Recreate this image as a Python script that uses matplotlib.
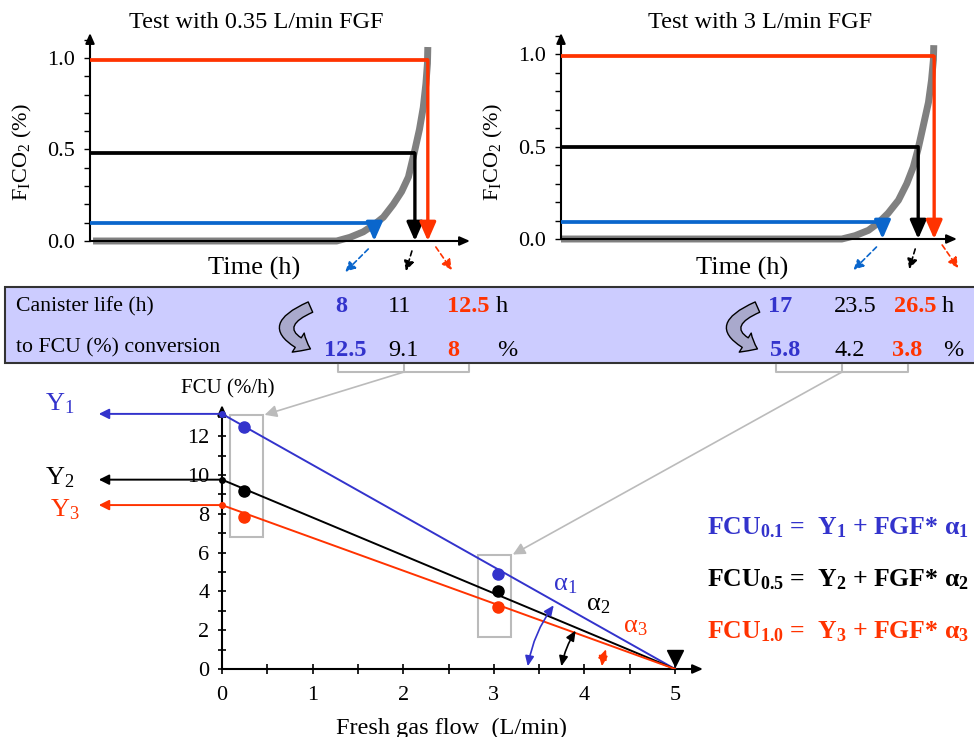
import matplotlib
matplotlib.use("Agg")
import matplotlib.pyplot as plt
from matplotlib.lines import Line2D
from matplotlib.patches import FancyArrowPatch, Rectangle
from matplotlib.ticker import MultipleLocator
from matplotlib.transforms import offset_copy

plt.rcParams["font.family"] = "Liberation Serif"
plt.rcParams["mathtext.fontset"] = "custom"
plt.rcParams["mathtext.rm"] = "Liberation Serif"
plt.rcParams["mathtext.it"] = "Liberation Serif:italic"
plt.rcParams["mathtext.bf"] = "Liberation Serif:bold"

W, H = 974, 737

BLUE = "#3333CC"
BLUE_LINE = "#0A66CC"
RED = "#FF3300"
GRAY = "#808080"
BOX_GRAY = "#BBBBBB"
LEVEL_COLORS = [BLUE_LINE, "black", RED]
FIT_COLORS = [BLUE, "black", RED]

# --- top panels: FiCO2 thresholds (%) and breakthrough times (schematic units)
levels_low = [0.097, 0.48, 0.99]
breakthrough_low = [7.48, 8.55, 8.89]
curve_low_t = [0.08, 6.49, 6.84, 7.19, 7.46, 7.72, 7.98, 8.20, 8.38, 8.53, 8.67,
               8.77, 8.84, 8.88, 8.89]
curve_low_f = [0.0, 0.0, 0.02, 0.05, 0.087, 0.13, 0.20, 0.27, 0.35, 0.48, 0.61,
               0.73, 0.86, 0.97, 1.06]

levels_high = [0.092, 0.50, 0.99]
breakthrough_high = [8.46, 9.40, 9.82]
curve_high_t = [0.0, 7.39, 7.74, 8.09, 8.35, 8.61, 8.88, 9.10, 9.27, 9.40, 9.53,
                9.67, 9.75, 9.80, 9.81]
curve_high_f = [0.0, 0.0, 0.018, 0.047, 0.087, 0.14, 0.21, 0.30, 0.39, 0.49, 0.61,
                0.74, 0.86, 0.97, 1.05]

# --- band: canister life and FCU conversion
life_low = ["8", "11", "12.5"]
fcu_low_txt = ["12.5", "9.1", "8"]
life_high = ["17", "23.5", "26.5"]
fcu_high_txt = ["5.8", "4.2", "3.8"]

# --- bottom: FCU vs fresh gas flow
fgf_tests = [0.24, 3.05]
fcu_at_low = [12.5, 9.2, 7.85]
fcu_at_high = [4.9, 4.0, 3.2]
intercepts = [13.15, 9.76, 8.45]
fgf_zero = 5.0
rect_x = [(0.09, 0.45), (2.83, 3.19)]
rect_y = [(6.8, 13.1), (1.65, 5.9)]
angle_start = [3.37, 3.74, 4.19]
angle_end_x = [3.68, 3.92, 4.25]
angle_end_y = [3.4, 2.1, 1.15]


def fx(x):
    return x / W


def fy(y):
    return 1 - y / H


def add_ax(x0, y_top, x1, y_bot):
    return fig.add_axes([x0 / W, 1 - y_bot / H, (x1 - x0) / W, (y_bot - y_top) / H])


def arrow_axes(ax, lw=1.5):
    for s in ax.spines.values():
        s.set_visible(False)
    props = dict(arrowstyle="-|>,head_length=0.5,head_width=0.22", color="black",
                 lw=lw, mutation_scale=12, shrinkA=0, shrinkB=0)
    ax.annotate("", xy=(1, 0), xytext=(0, 0), xycoords="axes fraction", arrowprops=props)
    ax.annotate("", xy=(0, 1), xytext=(0, 0), xycoords="axes fraction", arrowprops=props)


fig = plt.figure(figsize=(W / 100, H / 100), dpi=100)

# dashed hint arrows below each breakthrough point (pixel offsets)
hint_offsets = [((-6, 8), (-29, 31)), ((-3, 10), (-9, 30)), ((8, 6), (24, 29))]


def test_panel(box, ymax_px, levels, ends, curve_t, curve_f):
    ax = add_ax(*box)
    x0, y_top, x1, y_bot = box
    ax.set_xlim(0, (x1 - x0) / 38.0)
    ax.set_ylim(0, (y_bot - y_top) / ymax_px)
    arrow_axes(ax)
    ax.plot(curve_t, curve_f, color=GRAY, lw=5, solid_capstyle="butt",
            solid_joinstyle="round", zorder=2, clip_on=False)
    for lvl, t_end, c, (p0, p1) in zip(levels, ends, LEVEL_COLORS, hint_offsets):
        ax.plot([0, t_end], [lvl, lvl], color=c, lw=2.7, zorder=3, solid_capstyle="butt")
        ax.annotate("", xy=(t_end, 0), xytext=(t_end, lvl),
                    arrowprops=dict(arrowstyle="-|>,head_length=0.8,head_width=0.35",
                                    color=c, lw=2.4, mutation_scale=14,
                                    shrinkA=0, shrinkB=0), zorder=4)
        start = offset_copy(ax.transData, fig=fig, x=p0[0], y=-p0[1], units="dots")
        end = offset_copy(ax.transData, fig=fig, x=p1[0], y=-p1[1], units="dots")
        ax.annotate("", xy=(t_end, 0), xycoords=end, xytext=(t_end, 0), textcoords=start,
                    arrowprops=dict(arrowstyle="-|>,head_length=0.6,head_width=0.3",
                                    color=c, lw=1.2, ls=(0, (3, 2)), mutation_scale=10,
                                    shrinkA=0, shrinkB=0),
                    annotation_clip=False)
    ax.set_xticks([])
    ax.set_yticks([0, 0.5, 1.0])
    ax.set_yticklabels(["0.0", "0.5", "1.0"])
    ax.yaxis.set_minor_locator(MultipleLocator(0.1))
    ax.tick_params(axis="y", which="both", direction="out", length=4, width=1,
                   labelsize=16, pad=7)
    return ax


test_panel((90, 33, 470, 241), 183.0, levels_low, breakthrough_low, curve_low_t, curve_low_f)
test_panel((561, 33, 957, 239), 184.6, levels_high, breakthrough_high, curve_high_t, curve_high_f)

fig.text(fx(256), fy(22), "Test with 0.35 L/min FGF", fontsize=17.5, ha="center", va="center")
fig.text(fx(760), fy(22), "Test with 3 L/min FGF", fontsize=17.5, ha="center", va="center")
for xt in (254, 742):
    fig.text(fx(xt), fy(268), "Time (h)", fontsize=19, ha="center", va="center")
for xl in (22, 493):
    fig.text(fx(xl), fy(152), r"F$_\mathregular{I}$CO$_\mathregular{2}$ (%)", fontsize=16,
             rotation=90, ha="center", va="center")

# --- lavender band
fig.patches.append(Rectangle((fx(5), fy(363)), 1.0, 76 / H, transform=fig.transFigure,
                             facecolor="#CCCCFF", edgecolor="#333333", lw=1.5, zorder=1))
fig.text(fx(16), fy(307), "Canister life (h)", fontsize=15.7, va="center")
fig.text(fx(16), fy(348), "to FCU (%) conversion", fontsize=15.7, va="center")

band_cols = [
    (life_low, [341, 400, 468], 307, "h", 502),
    (fcu_low_txt, [345, 403, 453], 350, "%", 507),
    (life_high, [780, 855, 915], 307, "h", 948),
    (fcu_high_txt, [785, 850, 907], 350, "%", 953),
]
for values, xs, yrow, unit, ux in band_cols:
    for i, (val, xv) in enumerate(zip(values, xs)):
        fig.text(fx(xv), fy(yrow), val, fontsize=17.5, ha="center", va="center",
                 color=FIT_COLORS[i], fontweight="normal" if i == 1 else "bold", zorder=3)
    fig.text(fx(ux), fy(yrow), unit, fontsize=17.5, ha="center", va="center", zorder=3)

for xa in (313, 760):
    fig.patches.append(FancyArrowPatch(
        (fx(xa), fy(306)), (fx(xa), fy(350)), transform=fig.transFigure,
        connectionstyle="arc3,rad=1.2",
        arrowstyle="simple,head_length=0.55,head_width=0.9,tail_width=0.45",
        mutation_scale=18, facecolor="#A9A9CC", edgecolor="black", lw=1, zorder=2))

# brackets under the band
for left, mid, right in ((338, 404, 469), (776, 842, 908)):
    fig.lines.append(Line2D([fx(left), fx(left), fx(right), fx(right)],
                            [fy(365), fy(372), fy(372), fy(365)],
                            transform=fig.transFigure, color=BOX_GRAY, lw=1.5))
    fig.lines.append(Line2D([fx(mid), fx(mid)], [fy(365), fy(372)],
                            transform=fig.transFigure, color=BOX_GRAY, lw=1.5))

# --- bottom chart
ax = add_ax(222, 405, 703, 669)
ax.set_xlim(0, 481 / 90.6)
ax.set_ylim(0, 264 / 19.4)
arrow_axes(ax)

for Y, c in zip(intercepts, FIT_COLORS):
    ax.plot([0, fgf_zero], [Y, 0], color=c, lw=1.4, zorder=3)
    ax.plot(0, Y, "o", ms=4, color=c, zorder=4, clip_on=False)
    ax.annotate("", xy=(-1.36, Y), xytext=(0, Y), annotation_clip=False,
                arrowprops=dict(arrowstyle="-|>,head_length=0.6,head_width=0.3", color=c,
                                lw=1.4, mutation_scale=10, shrinkA=0, shrinkB=0))

for i, c in enumerate(FIT_COLORS):
    ax.plot(fgf_tests[0], fcu_at_low[i], "o", ms=8, color=c, zorder=5)
    ax.plot(fgf_tests[1], fcu_at_high[i], "o", ms=8, color=c, zorder=5)

for (xa, xb), (ya, yb) in zip(rect_x, rect_y):
    ax.add_patch(Rectangle((xa, ya), xb - xa, yb - ya, fill=False, ec=BOX_GRAY, lw=1.5, zorder=2))

ax.plot(fgf_zero, 0, marker="v", ms=12, color="black", clip_on=False,
        transform=offset_copy(ax.transData, fig=fig, y=11, units="dots"))

for sx, ex, ey, c, rad in zip(angle_start, angle_end_x, angle_end_y, FIT_COLORS,
                              (-0.125, -0.1, -0.075)):
    ax.add_patch(FancyArrowPatch((sx, 0), (ex, ey), connectionstyle=f"arc3,rad={rad}",
                                 arrowstyle="<|-|>,head_length=0.5,head_width=0.22",
                                 mutation_scale=12, lw=1.2, color=c, zorder=4))

for (xa, ya), i in zip([(3.79, 4.33), (4.15, 3.3), (4.56, 2.16)], range(3)):
    ax.text(xa, ya, r"$\mathrm{\alpha}_\mathregular{%d}$" % (i + 1), fontsize=19,
            color=FIT_COLORS[i], ha="center", va="center")
for (xa, ya), i in zip([(-1.79, 13.7), (-1.79, 9.85), (-1.73, 8.2)], range(3)):
    ax.text(xa, ya, r"Y$_\mathregular{%d}$" % (i + 1), fontsize=19,
            color=FIT_COLORS[i], ha="center", va="center")

ax.set_xticks(range(6))
ax.xaxis.set_minor_locator(MultipleLocator(0.5))
ax.set_yticks(range(0, 13, 2))
ax.yaxis.set_minor_locator(MultipleLocator(1))
ax.tick_params(axis="x", which="both", direction="inout", length=7, width=1.2,
               labelsize=16, pad=9)
ax.tick_params(axis="y", which="both", direction="inout", length=6, width=1.2,
               labelsize=16, pad=6)

# connectors from brackets to the boxes
for (xa, xb), (ya, yb), mid in zip(rect_x, rect_y, (404, 842)):
    ax.annotate("", xy=(xb + 0.02, yb), xycoords="data",
                xytext=(fx(mid), fy(372)), textcoords="figure fraction",
                annotation_clip=False,
                arrowprops=dict(arrowstyle="-|>,head_length=0.6,head_width=0.3",
                                color=BOX_GRAY, lw=1.2, mutation_scale=12,
                                shrinkA=0, shrinkB=0))

fig.text(fx(228), fy(389), "FCU (%/h)", fontsize=15, ha="center", va="center")
fig.text(fx(451), fy(728), "Fresh gas flow  (L/min)", fontsize=17.5, ha="center", va="center")

equations = [
    (r"FCU$_\mathbf{0.1}$ =  Y$_\mathbf{1}$ + FGF* $\mathbf{\alpha}_\mathbf{1}$", 528),
    (r"FCU$_\mathbf{0.5}$ =  Y$_\mathbf{2}$ + FGF* $\mathbf{\alpha}_\mathbf{2}$", 580),
    (r"FCU$_\mathbf{1.0}$ =  Y$_\mathbf{3}$ + FGF* $\mathbf{\alpha}_\mathbf{3}$", 632),
]
for (eq, ye), c in zip(equations, FIT_COLORS):
    fig.text(fx(707), fy(ye), eq, fontsize=18.5, fontweight="bold", color=c, va="center")

fig.savefig("out.png", dpi=100)
